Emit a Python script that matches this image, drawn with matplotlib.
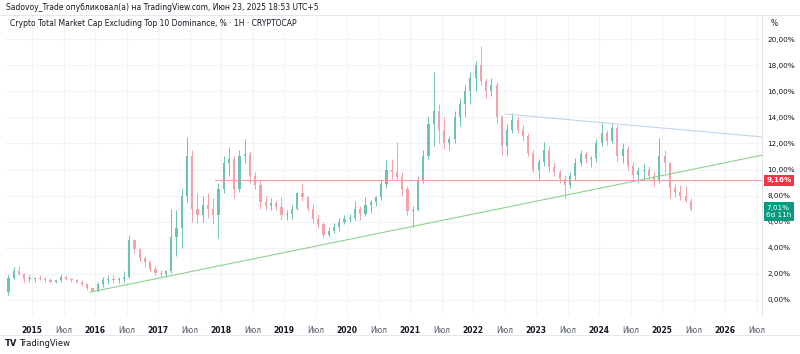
import numpy as np
import matplotlib.pyplot as plt

# monthly candles, Aug 2014 .. Jun 2025 (values in %)
start_year, start_month = 2014, 8
opens = [0.6, 1.7, 2.2, 2.0, 1.6,
         1.6, 1.7, 1.6, 1.5, 1.4, 1.5, 1.8, 1.6, 1.5, 1.4, 1.2, 0.9,
         0.7, 1.2, 1.5, 1.6, 1.5, 1.6, 1.8, 4.6, 3.9, 3.2, 2.9, 2.4,
         2.1, 2.0, 2.2, 4.8, 5.5, 8.0, 11.0, 7.0, 6.5, 7.3, 7.0, 6.5,
         8.5, 10.5, 10.8, 8.5, 11.0, 11.2, 9.5, 8.8, 7.5, 7.2, 7.4, 7.1,
         6.5, 6.6, 7.0, 8.2, 7.9, 7.0, 6.2, 5.8, 5.0, 5.3, 5.6, 6.0,
         6.2, 6.3, 7.0, 6.6, 7.3, 7.5, 7.9, 8.9, 10.0, 9.8, 9.4, 8.5,
         6.8, 6.9, 9.2, 11.0, 13.5, 14.5, 13.0, 12.0, 12.3, 14.0, 15.0, 16.0,
         17.0, 18.0, 16.8, 16.0, 16.5, 14.0, 11.8, 13.0, 13.8, 13.0, 12.6, 11.3,
         10.0, 10.6, 11.5, 10.2, 9.8, 9.3, 8.8, 9.5, 10.5, 11.2, 10.8, 10.9,
         12.0, 12.8, 12.2, 13.2, 11.0, 11.6, 10.3, 9.6, 9.9, 10.0, 9.5, 9.2,
         11.0, 10.5, 8.6, 8.3, 8.0, 7.6]
highs = [1.9, 2.5, 2.6, 2.1, 1.9,
         1.8, 1.9, 1.8, 1.7, 1.6, 2.0, 1.9, 1.7, 1.6, 1.5, 1.3, 1.0,
         1.4, 1.8, 1.9, 1.9, 1.8, 2.2, 5.0, 4.7, 4.0, 3.4, 3.1, 2.6,
         2.3, 2.3, 7.0, 6.9, 8.5, 12.5, 11.5, 8.2, 8.0, 8.2, 7.8, 9.0,
         11.0, 11.7, 11.0, 11.5, 12.3, 11.4, 9.8, 9.2, 8.0, 7.8, 7.7, 7.9,
         6.9, 7.3, 8.3, 8.9, 8.0, 7.4, 6.6, 6.0, 5.6, 5.9, 6.3, 6.5,
         6.6, 7.6, 7.2, 7.9, 7.7, 8.0, 9.2, 10.7, 10.8, 12.1, 9.8, 8.7,
         7.2, 9.5, 11.5, 14.0, 17.5, 15.0, 14.0, 12.6, 14.5, 15.5, 16.5, 17.5,
         18.3, 19.5, 17.0, 17.0, 16.7, 14.2, 13.5, 14.3, 14.0, 13.4, 12.8, 11.5,
         10.8, 12.1, 11.8, 10.5, 10.0, 9.6, 9.8, 10.9, 11.5, 11.4, 11.0, 12.3,
         13.6, 13.0, 13.5, 13.4, 12.0, 11.8, 10.6, 10.2, 10.5, 10.3, 9.8, 12.4,
         11.5, 10.6, 8.9, 8.8, 8.7, 7.8]
lows = [0.4, 1.6, 1.9, 1.4, 1.4,
        1.4, 1.5, 1.4, 1.3, 1.3, 1.4, 1.5, 1.4, 1.3, 1.1, 0.8, 0.6,
        0.6, 1.0, 1.2, 1.3, 1.3, 1.4, 1.7, 3.6, 3.0, 2.5, 2.2, 1.9,
        1.8, 1.8, 2.1, 3.4, 4.0, 7.5, 6.0, 5.9, 6.0, 6.3, 5.8, 4.75,
        8.2, 9.5, 7.8, 8.3, 10.5, 9.0, 8.5, 7.0, 6.9, 6.9, 6.9, 6.1,
        6.1, 6.2, 6.9, 7.6, 6.8, 5.9, 5.5, 4.75, 4.8, 5.1, 5.3, 5.8,
        6.0, 6.1, 6.1, 6.4, 6.7, 7.2, 7.7, 8.6, 9.3, 9.2, 8.0, 6.5,
        5.6, 6.8, 9.0, 10.8, 11.8, 12.0, 11.6, 11.5, 12.0, 13.3, 14.0, 15.0,
        16.0, 16.5, 15.5, 15.6, 13.5, 11.0, 11.0, 12.8, 12.8, 12.2, 11.0, 9.8,
        9.3, 10.3, 9.8, 9.5, 9.0, 7.8, 8.6, 9.2, 10.3, 10.5, 10.2, 10.6,
        11.8, 11.9, 12.0, 10.6, 10.5, 10.0, 9.2, 9.0, 9.3, 9.2, 8.7, 9.0,
        9.7, 7.8, 7.9, 7.7, 7.5, 6.8]
closes = opens[1:] + [7.01]

# trend lines: (decimal year, %)
support_line = [(2015.92, 0.6), (2026.59, 11.1)]
resistance_line = [(2022.51, 14.25), (2026.59, 12.5)]
hline_start, hline_value = 2017.9, 9.16
last_value, countdown = 7.01, '6d 11h'

y_ticks = [0, 2, 4, 6, 8, 10, 12, 14, 16, 18, 20]
years = list(range(2015, 2027))

n = len(opens)
t = np.array([start_year + (start_month - 1 + i) / 12 for i in range(n)]) + 1 / 24
o = np.array(opens)
h = np.array(highs)
l = np.array(lows)
c = np.array(closes)

fig = plt.figure(figsize=(8, 3.54), dpi=100)
ax = fig.add_axes([5 / 800, 39 / 354, 757 / 800, 300 / 354])
ax.set_xlim(2014.571, 2026.587)
ax.set_ylim(-1.15, 21.84)

up_col = '#6cc2b3'
dn_col = '#f3a2a9'
up = c >= o
cols = np.where(up, up_col, dn_col)
ax.vlines(t, l, h, colors=cols, linewidth=0.7, zorder=3)
ax.bar(t, np.maximum(np.abs(c - o), 0.05), bottom=np.minimum(o, c),
       width=0.035, color=cols, linewidth=0, zorder=3)

# lines
ax.plot([p[0] for p in support_line], [p[1] for p in support_line],
        color='#8fd08f', linewidth=0.8, zorder=4)
ax.plot([p[0] for p in resistance_line], [p[1] for p in resistance_line],
        color='#c3d5ea', linewidth=0.8, zorder=4)
ax.plot([hline_start, 2026.587], [hline_value, hline_value],
        color='#f1a0a6', linewidth=0.8, zorder=4)

# grid
ax.set_yticks(y_ticks)
xt, xl = [], []
for y in years:
    xt += [y, y + 0.5]
    xl += [str(y), 'Июл']
ax.set_xticks(xt)
ax.set_xticklabels(xl)
for i, lab in enumerate(ax.get_xticklabels()):
    lab.set_color('#131722' if i % 2 == 0 else '#555a66')
    lab.set_fontweight('bold' if i % 2 == 0 else 'normal')
ax.grid(True, color='#f0f3fa', linewidth=0.8, zorder=0)
ax.tick_params(axis='x', length=0, labelsize=5.5, pad=8)
ax.yaxis.tick_right()
ax.set_yticklabels([('%.2f%%' % v).replace('.', ',') for v in y_ticks])
ax.tick_params(axis='y', length=0, labelsize=5.2, pad=4, labelcolor='#131722')
for s in ['top', 'left', 'bottom']:
    ax.spines[s].set_visible(False)
ax.spines['right'].set_color('#e0e3eb')
ax.spines['right'].set_linewidth(0.8)

# price labels on the axis
ax.annotate(('%.2f%%' % hline_value).replace('.', ','), xy=(1.0, hline_value),
            xycoords=('axes fraction', 'data'), xytext=(3, 0), textcoords='offset points',
            ha='left', va='center', fontsize=5.2, color='white', fontweight='bold',
            zorder=10, bbox=dict(boxstyle='square,pad=0.35', fc='#f23645', ec='none'))
ax.annotate(('%.2f%%' % last_value).replace('.', ',') + '\n' + countdown,
            xy=(1.0, last_value), xycoords=('axes fraction', 'data'),
            xytext=(3, -2), textcoords='offset points', ha='left', va='center',
            fontsize=5.2, color='white', linespacing=1.3, zorder=10,
            bbox=dict(boxstyle='square,pad=0.35', fc='#089981', ec='none'))
fig.text(774 / 800, 1 - 24 / 354, '%', fontsize=5.5, color='#131722', ha='center', va='center')

# header / footer
fig.text(6 / 800, 1 - 8 / 354,
         'Sadovoy_Trade опубликовал(а) на TradingView.com, Июн 23, 2025 18:53 UTC+5',
         fontsize=5.5, color='#131722', va='center')
fig.text(10 / 800, 1 - 24 / 354,
         'Crypto Total Market Cap Excluding Top 10 Dominance, % · 1H · CRYPTOCAP',
         fontsize=5.5, color='#131722', va='center')
fig.text(5 / 800, 1 - 344 / 354, 'TV', fontsize=6, fontweight='bold', color='#131722', va='center')
fig.text(19 / 800, 1 - 344 / 354, 'TradingView', fontsize=6, color='#131722', va='center')
fig.add_artist(plt.Line2D([0, 1], [1 - 15 / 354, 1 - 15 / 354], color='#e0e3eb', linewidth=0.6))
fig.add_artist(plt.Line2D([0, 1], [1 - 335 / 354, 1 - 335 / 354], color='#e0e3eb', linewidth=0.6))

fig.savefig('out.png', dpi=100, facecolor='white')
